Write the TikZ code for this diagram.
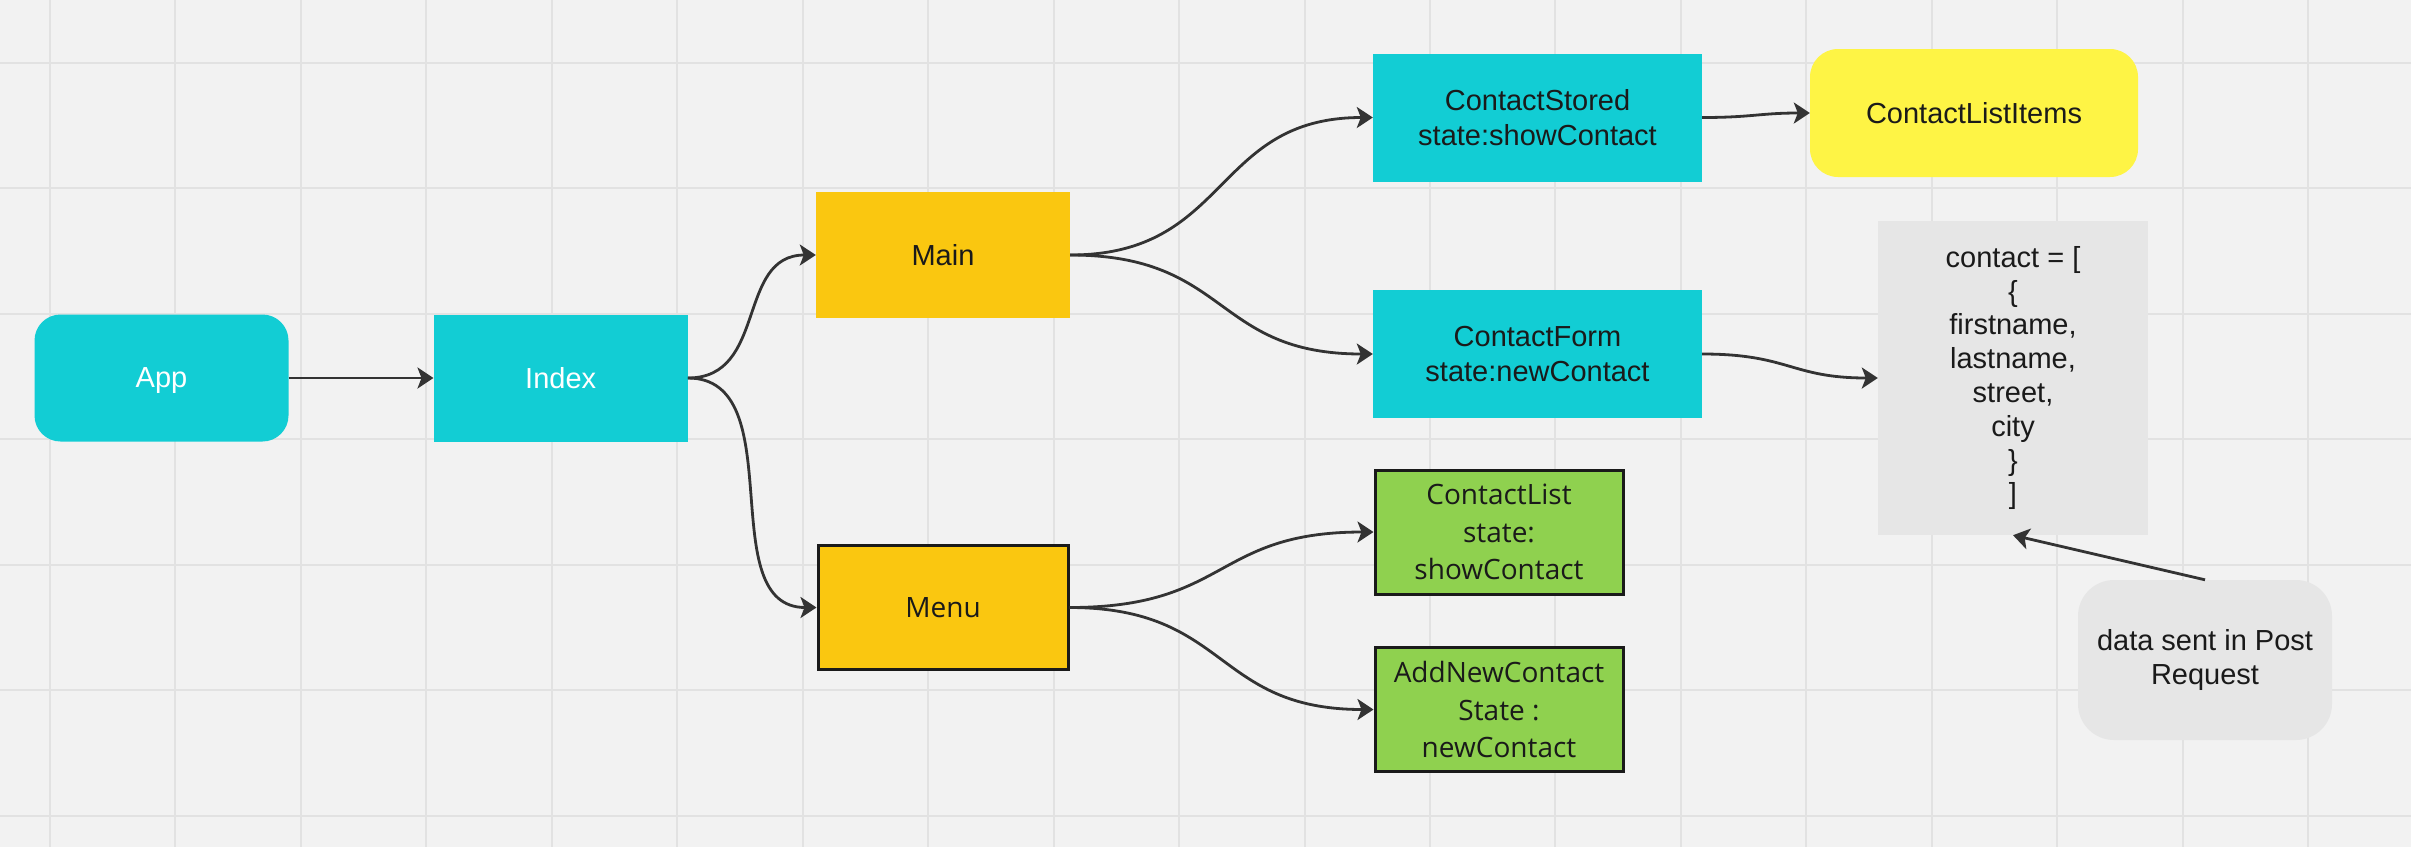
\documentclass[tikz,border=0pt]{standalone}
\usepackage{fontspec}
\setmainfont{Liberation Sans}
\newfontfamily\osans{Open Sans}
\usetikzlibrary{arrows.meta}
\definecolor{bg}{HTML}{F2F2F2}
\definecolor{gridc}{HTML}{E2E2E2}
\definecolor{cyanbox}{HTML}{12CDD4}
\definecolor{amber}{HTML}{FAC710}
\definecolor{greenbox}{HTML}{8FD14F}
\definecolor{yelbox}{HTML}{FEF445}
\definecolor{graybox}{HTML}{E6E6E6}
\definecolor{linec}{HTML}{333333}
\definecolor{txt}{HTML}{1A1A1A}
\begin{document}
\begin{tikzpicture}[x=1pt,y=-1pt,
  box/.style={inner sep=0pt, align=center, text=txt, font=\fontsize{29}{34.5}\selectfont},
  cyanrect/.style={box, fill=cyanbox, minimum width=329pt, minimum height=128pt},
  mainbox/.style={box, fill=amber, minimum width=254pt, minimum height=126pt},
  menubox/.style={box, fill=amber, draw=txt, line width=3pt, minimum width=250pt, minimum height=124pt, font=\osans\fontsize{28}{37.5}\selectfont},
  greenrect/.style={box, fill=greenbox, draw=txt, line width=3pt, minimum width=248pt, minimum height=124pt, font=\osans\fontsize{28}{37.5}\selectfont},
  whitebox/.style={box, fill=cyanbox, text=white, minimum width=254pt, minimum height=127pt},
  conn/.style={draw=linec, line width=2.8pt, -{Stealth[length=16pt,width=21pt,inset=4pt]}}
]
\fill[bg] (0,0) rectangle (2411,847);
\useasboundingbox (0,0) rectangle (2411,847);
\foreach \k in {0,...,18} \draw[gridc, line width=2pt] ({50+125.45*\k},0) -- ({50+125.45*\k},847);
\foreach \k in {0,...,6} \draw[gridc, line width=2pt] (0,{63+125.45*\k}) -- (2411,{63+125.45*\k});

\node[whitebox, rounded corners=26pt, text depth=0pt] (app) at (161.5,378) {App};
\node[whitebox] (index) at (560.7,378) {Index};
\node[mainbox] (main) at (943,255) {Main};
\node[menubox] (menu) at (943,607.5) {Menu};
\node[cyanrect] (stored) at (1537.5,117.5) {ContactStored\\state:showContact};
\node[cyanrect] (form) at (1537.5,354) {ContactForm\\state:newContact};
\node[box, fill=yelbox, rounded corners=28pt, minimum width=328pt, minimum height=128pt] (items) at (1974,113) {ContactListItems};
\node[greenrect] (clist) at (1499,532) {ContactList\\state:\\showContact};
\node[greenrect] (addnew) at (1499,709.5) {AddNewContact\\State :\\newContact};
\node[box, fill=graybox, minimum width=270pt, minimum height=314pt, font=\fontsize{29}{33.8}\selectfont] (contact) at (2013,378) {contact = [\\\{\\firstname,\\lastname,\\street,\\city\\\}\\]};
\node[box, fill=graybox, rounded corners=36pt, minimum width=254pt, minimum height=160pt, font=\fontsize{29}{33.5}\selectfont] (data) at (2205,660) {data sent in Post\\Request};

\draw[conn] (app.east) -- (index.west);
\draw[conn] (index.east) .. controls +(80,0) and +(-80,0) .. (main.west);
\draw[conn] (index.east) .. controls +(105,0) and +(-105,0) .. (menu.west);
\draw[conn] (main.east) .. controls +(160,0) and +(-160,0) .. (stored.west);
\draw[conn] (main.east) .. controls +(160,0) and +(-160,0) .. (form.west);
\draw[conn] (menu.east) .. controls +(160,0) and +(-160,0) .. (clist.west);
\draw[conn] (menu.east) .. controls +(160,0) and +(-160,0) .. (addnew.west);
\draw[conn] (stored.east) .. controls +(50,0) and +(-50,0) .. (items.west);
\draw[conn] (form.east) .. controls +(87,0) and +(-87,0) .. (contact.west);
\draw[conn] (data.north) -- (contact.south);
\end{tikzpicture}
\end{document}
